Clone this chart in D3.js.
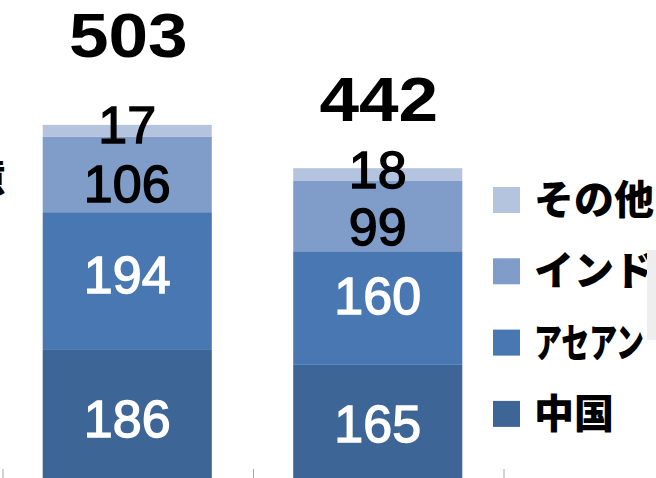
<!DOCTYPE html>
<html>
<head>
<meta charset="utf-8">
<script src="https://cdn.jsdelivr.net/npm/d3@7"></script>
<style>
  body { margin: 0; background: #fff; }
  svg { display: block; }
</style>
</head>
<body>
<div class="chart"></div>
<script>
// data
var periods = ["前回", "今回"];
var seriesNames = ["中国", "アセアン", "インド", "その他"];
var china = [186, 165];
var asean = [194, 160];
var india = [106, 99];
var other = [17, 18];
var totals = [503, 442];

var colors = ["#3d6596", "#4877b2", "#7f9dc8", "#b5c4de"];

// label nudges (hand placed in the original)
var segNudge = [[2, 0], [-7, -13], [9, 10], [-7, -5]];
var totalLift = [68, 47];

var outerWidth = 656;
var outerHeight = 478;

var svg = d3.select(".chart").append("svg")
  .attr("width", outerWidth)
  .attr("height", outerHeight);

// Set scales
var xScale = d3.scaleBand()
  .domain(periods)
  .range([2, 503])
  .paddingInner(0.325)
  .paddingOuter(0.1625);

var yScale = d3.scaleLinear()
  .domain([0, 600])
  .range([482, 56]);

var rows = periods.map(function(p, i) {
  return { period: p, china: china[i], asean: asean[i], india: india[i], other: other[i] };
});

var stack = d3.stack().keys(["china", "asean", "india", "other"]);
var layers = stack(rows);

// bars
var layer = svg.selectAll("g.layer").data(layers)
  .enter().append("g")
    .attr("class", "layer")
    .attr("fill", function(d, i) { return colors[i]; });

layer.selectAll("rect").data(function(d) { return d; })
  .enter().append("rect")
    .attr("x", function(d) { return xScale(d.data.period); })
    .attr("y", function(d) { return yScale(d[1]); })
    .attr("width", xScale.bandwidth())
    .attr("height", function(d) { return yScale(d[0]) - yScale(d[1]); });

// segment labels
layers.forEach(function(ly, si) {
  svg.selectAll("text.seg" + si).data(ly)
    .enter().append("text")
      .attr("class", "seg" + si)
      .attr("x", function(d) { return xScale(d.data.period) + xScale.bandwidth() / 2; })
      .attr("y", function(d, i) {
        return (yScale(d[0]) + yScale(d[1])) / 2 + segNudge[si][i] + 18.6;
      })
      .attr("text-anchor", "middle")
      .style("font-family", "'Liberation Sans', Arial, sans-serif")
      .style("font-size", "52px")
      .style("fill", si < 2 ? "#fff" : "#000")
      .style("stroke", si < 2 ? "#fff" : "#000")
      .style("stroke-width", 1.4)
      .text(function(d) { return d[1] - d[0]; });
});

// totals
svg.selectAll("text.total").data(totals)
  .enter().append("text")
    .attr("class", "total")
    .attr("text-anchor", "middle")
    .attr("transform", function(d, i) {
      var cx = xScale(periods[i]) + xScale.bandwidth() / 2 + 1;
      return "translate(" + cx + "," + (yScale(d) - totalLift[i]) + ") scale(1.13,1)";
    })
    .style("font-family", "'Liberation Sans', Arial, sans-serif")
    .style("font-weight", "bold")
    .style("font-size", "63px")
    .text(function(d) { return d; });

// category boundary ticks
var tickScale = d3.scaleLinear().domain([0, periods.length]).range([2, 503]);
var axis = svg.append("g")
  .attr("transform", "translate(0.5,482)")
  .call(d3.axisTop(tickScale).tickValues(d3.range(periods.length + 1)).tickSize(13).tickFormat(""));
axis.select(".domain").remove();
axis.selectAll("line").attr("stroke", "#a6a6a6");

// legend (top to bottom: その他, インド, アセアン, 中国)
var legendOrder = [3, 2, 1, 0];
var legend = svg.selectAll("g.legend").data(legendOrder)
  .enter().append("g")
    .attr("class", "legend")
    .attr("transform", function(d, i) { return "translate(493," + (187 + i * 71.3) + ")"; });

legend.append("rect")
  .attr("width", 27)
  .attr("height", 26)
  .attr("fill", function(d) { return colors[d]; });

legend.append("text")
  .attr("x", 41)
  .attr("y", 27)
  .style("font-family", "'Noto Sans CJK JP', sans-serif")
  .style("font-weight", 900)
  .style("font-size", "40px")
  .text(function(d) { return seriesNames[d]; })
  .each(function() {
    var len = this.getComputedTextLength();
    if (len > 130) {
      d3.select(this).attr("textLength", 110).attr("lengthAdjust", "spacingAndGlyphs");
    }
  });

// fragments cut at the picture edges
svg.append("text")
  .attr("x", 5)
  .attr("y", 192)
  .attr("text-anchor", "end")
  .style("font-family", "'Noto Sans CJK JP', sans-serif")
  .style("font-weight", 900)
  .style("font-size", "40px")
  .text("億");

svg.append("rect")
  .attr("x", 647)
  .attr("y", 250)
  .attr("width", 9)
  .attr("height", 90)
  .attr("fill", "#eeeeee");
</script>
</body>
</html>
